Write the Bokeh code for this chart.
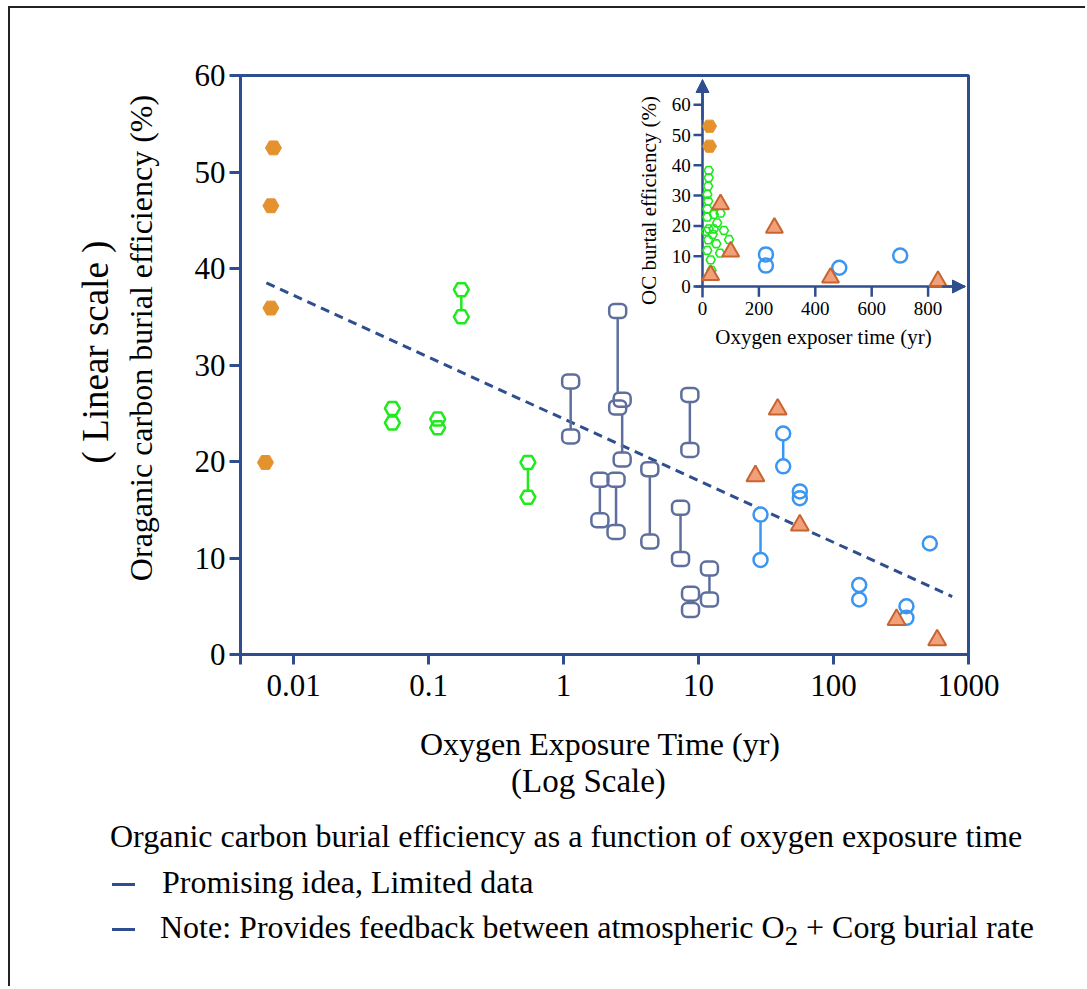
import math
from bokeh.plotting import figure
from bokeh.layouts import column, row
from bokeh.models import (Range1d, LinearScale, FixedTicker, Label, Arrow,
                          NormalHead, Div)
from bokeh.core.properties import value
from bokeh.embed import file_html
from bokeh.resources import INLINE

# ---------------- data (main chart) ----------------
orange_x = [0.0071, 0.0068, 0.0068, 0.0062]
orange_y = [52.5, 46.5, 35.9, 19.9]

green_pair_x = [0.175, 0.545]
green_pair_top = [37.8, 19.9]
green_pair_bot = [35.0, 16.3]
green_single_x = [0.054, 0.054, 0.117, 0.117]
green_single_y = [25.5, 24.0, 24.4, 23.5]

square_pair_x = [1.13, 2.52, 2.72, 8.63, 1.86, 2.45, 4.36, 7.36, 12.05]
square_pair_top = [28.3, 35.6, 26.4, 26.9, 18.1, 18.1, 19.2, 15.2, 8.9]
square_pair_bot = [22.6, 25.6, 20.2, 21.2, 13.9, 12.7, 11.7, 9.9, 5.7]
square_single_x = [8.73, 8.73]
square_single_y = [6.3, 4.6]

circle_pair_x = [42.4, 28.8]
circle_pair_top = [22.9, 14.5]
circle_pair_bot = [19.5, 9.8]
circle_single_x = [56.3, 56.3, 517, 155, 155, 347, 347]
circle_single_y = [16.9, 16.2, 11.5, 7.2, 5.7, 5.0, 3.8]

tri_x = [38.6, 26.4, 56.3, 293, 586]
tri_y = [25.4, 18.5, 13.4, 3.6, 1.5]

trend_x = [0.0063, 757]
trend_y = [38.5, 6.0]

x_ticks = [0.01, 0.1, 1, 10, 100, 1000]
x_tick_labels = ["0.01", "0.1", "1", "10", "100", "1000"]
y_ticks = [0, 10, 20, 30, 40, 50, 60]

# ---------------- data (inset) ----------------
in_orange_x = [25, 25]
in_orange_y = [52.9, 46.3]
in_green_x = [22, 22, 20, 17, 20, 17, 17, 40, 64, 22, 40, 52, 76, 94, 20, 49,
              17, 62, 29, 32, 13, 36]
in_green_y = [38.3, 35.9, 33.1, 30.4, 28.2, 25.6, 22.9, 23.8, 24.2, 19.0, 19.0,
              21.0, 18.5, 15.5, 15.4, 14.1, 11.9, 11.0, 8.8, 5.3, 18.2, 17.2]
in_tri_x = [64, 100, 29, 255, 454, 835]
in_tri_y = [27.1, 11.5, 3.8, 19.4, 2.9, 1.8]
in_circle_x = [225, 225, 485, 701]
in_circle_y = [10.6, 6.9, 6.2, 10.2]
in_x_ticks = [0, 200, 400, 600, 800]
in_y_ticks = [0, 10, 20, 30, 40, 50, 60]

# ---------------- texts ----------------
y_title = "Oraganic carbon burial efficiency (%)"
y_subtitle = "( Linear scale )"
x_title = "Oxygen Exposure Time (yr)"
x_subtitle = "(Log Scale)"
caption_title = "Organic carbon burial efficiency as a function of oxygen exposure time"
caption_items = ["Promising idea, Limited data",
                 "Note: Provides feedback between atmospheric O<sub>2</sub> + Corg burial rate"]

# ---------------- styles ----------------
AXIS = "#2F4E8F"
ORANGE = "#E3922E"
GREEN = "#1EEA1E"
SLATE = "#5E6F9E"
BLUE = "#3A96F0"
TRI_FILL = "#F2A07A"
TRI_LINE = "#C8642F"
FONT = "Liberation Serif"

OX, OY = 10, 8                    # page offset of the whole layout content
TOTAL_W = 1075
LW = 160                          # left text column width
FX = OX + LW                      # page x of figure canvas
W = TOTAL_W - LW
H = 712
FL, FR, FT, FB = 240, 968, 75, 654          # frame edges in page px
x_lo = 10 ** (-2 - (293 - FL) / 135.0)

# inset linear mapping (page px)
IX0, IXS = 702, 0.282
IY0, IYS = 286, 3.03

p = figure(width=W, height=H, x_axis_type="log",
           x_range=Range1d(x_lo, 1000), y_range=Range1d(0, 60),
           output_backend="svg", toolbar_location=None,
           min_border_left=FL - FX, min_border_right=W - (FR - FX),
           min_border_top=FT - OY, min_border_bottom=H - (FB - OY))
p.extra_x_ranges = {"px": Range1d(FL, FR),
                    "ix": Range1d((FL - IX0) / IXS, (FR - IX0) / IXS)}
p.extra_y_ranges = {"px": Range1d(FB, FT),
                    "iy": Range1d((IY0 - FB) / IYS, (IY0 - FT) / IYS)}
p.extra_x_scales = {"px": LinearScale(), "ix": LinearScale()}
p.extra_y_scales = {"px": LinearScale(), "iy": LinearScale()}

p.grid.visible = False
p.background_fill_color = "white"
p.border_fill_color = "white"
p.outline_line_color = AXIS
p.outline_line_width = 3

for ax in (p.xaxis[0], p.yaxis[0]):
    ax.axis_line_color = AXIS
    ax.axis_line_width = 3
    ax.major_tick_line_color = AXIS
    ax.major_tick_line_width = 3
    ax.major_tick_in = 0
    ax.minor_tick_line_color = None
    ax.major_label_text_font = FONT
    ax.major_label_text_font_size = "31px"
    ax.major_label_text_color = "black"

p.xaxis.ticker = FixedTicker(ticks=[x_lo] + x_ticks)
ov = {float(x_lo): ""}
for t, s in zip(x_ticks, x_tick_labels):
    ov[float(t)] = s
p.xaxis.major_label_overrides = ov
p.xaxis.major_tick_out = 10
p.xaxis.major_label_standoff = 10
p.yaxis.ticker = FixedTicker(ticks=y_ticks)
p.yaxis.major_tick_out = 11
p.yaxis.major_label_standoff = 4

# ---------------- main glyphs ----------------
p.line(trend_x, trend_y, line_color=AXIS, line_width=3, line_dash="9 6")

p.scatter(orange_x, orange_y, marker="hex", size=16, fill_color=ORANGE,
          line_color=ORANGE, line_width=1)

p.segment(x0=green_pair_x, y0=green_pair_top, x1=green_pair_x, y1=green_pair_bot,
          line_color=GREEN, line_width=2.5)
gx = green_pair_x + green_pair_x + green_single_x
gy = green_pair_top + green_pair_bot + green_single_y
p.scatter(gx, gy, marker="hex", size=15, fill_color="white", line_color=None)
p.scatter(gx, gy, marker="hex", size=15, fill_color=None, line_color=GREEN,
          line_width=2.5)

p.segment(x0=square_pair_x, y0=square_pair_top, x1=square_pair_x, y1=square_pair_bot,
          line_color=SLATE, line_width=2.5)
sx = square_pair_x + square_pair_x + square_single_x
sy = square_pair_top + square_pair_bot + square_single_y
p.rect(sx, sy, width=17, height=14, width_units="screen", height_units="screen",
       border_radius=5, fill_color="white", line_color=None)
p.rect(sx, sy, width=17, height=14, width_units="screen", height_units="screen",
       border_radius=5, fill_color=None, line_color=SLATE, line_width=2.5)

p.segment(x0=circle_pair_x, y0=circle_pair_top, x1=circle_pair_x, y1=circle_pair_bot,
          line_color=BLUE, line_width=2.5)
cx = circle_pair_x + circle_pair_x + circle_single_x
cy = circle_pair_top + circle_pair_bot + circle_single_y
p.scatter(cx, cy, marker="circle", size=14, fill_color="white", line_color=None)
p.scatter(cx, cy, marker="circle", size=14, fill_color=None, line_color=BLUE,
          line_width=2.5)

p.scatter(tri_x, tri_y, marker="triangle", size=18, fill_color=TRI_FILL,
          line_color=TRI_LINE, line_width=2)

# ---------------- inset ----------------
IR = dict(x_range_name="ix", y_range_name="iy")
p.segment(x0=[-25], y0=[0], x1=[930], y1=[0], line_color=AXIS, line_width=2.5, **IR)
p.segment(x0=[0], y0=[-3.6], x1=[0], y1=[66], line_color=AXIS, line_width=2.5, **IR)
p.add_layout(Arrow(end=NormalHead(size=13, fill_color=AXIS, line_color=AXIS),
                   x_start=850, y_start=0, x_end=(965 - IX0) / IXS, y_end=0,
                   line_color=AXIS, line_width=2.5, **IR))
p.add_layout(Arrow(end=NormalHead(size=13, fill_color=AXIS, line_color=AXIS),
                   x_start=0, y_start=55, x_end=0, y_end=(IY0 - 79) / IYS,
                   line_color=AXIS, line_width=2.5, **IR))
p.segment(x0=[-32] * len(in_y_ticks), y0=in_y_ticks, x1=[0] * len(in_y_ticks),
          y1=in_y_ticks, line_color=AXIS, line_width=2.5, **IR)
p.segment(x0=in_x_ticks[1:], y0=[0] * 4, x1=in_x_ticks[1:], y1=[-3.4] * 4,
          line_color=AXIS, line_width=2.5, **IR)
p.text(x=[-42] * len(in_y_ticks), y=in_y_ticks, text=[str(v) for v in in_y_ticks],
       text_font=value(FONT), text_font_size="19px", text_align="right",
       text_baseline="middle", text_color="black", **IR)
p.text(x=in_x_ticks, y=[-5.2] * len(in_x_ticks), text=[str(v) for v in in_x_ticks],
       text_font=value(FONT), text_font_size="19px", text_align="center",
       text_baseline="top", text_color="black", **IR)

p.scatter(in_green_x, in_green_y, marker="hex", size=9, fill_color=None,
          line_color=GREEN, line_width=1.6, **IR)
p.scatter(in_orange_x, in_orange_y, marker="hex", size=14, fill_color=ORANGE,
          line_color=ORANGE, **IR)
p.scatter(in_circle_x, in_circle_y, marker="circle", size=14, fill_color=None,
          line_color=BLUE, line_width=2.5, **IR)
p.scatter(in_tri_x, in_tri_y, marker="triangle", size=17, fill_color=TRI_FILL,
          line_color=TRI_LINE, line_width=2, **IR)

PX = dict(x_range_name="px", y_range_name="px")
p.add_layout(Label(text="OC burtal efficiency (%)", x=648, y=200, angle=math.pi / 2,
                   text_font=FONT, text_font_size="21px", text_align="center",
                   text_baseline="middle", text_color="black", **PX))
p.add_layout(Label(text="Oxygen exposer time (yr)", x=823, y=336,
                   text_font=FONT, text_font_size="21px", text_align="center",
                   text_baseline="alphabetic", text_color="black", **PX))


# ---------------- HTML text blocks (page-pixel placement) ----------------
def vtext(text, cx_page, cy_page, size):
    return (f'<div style="position:absolute;left:{cx_page - OX}px;top:{cy_page - OY}px;'
            f'transform:translate(-50%,-50%) rotate(-90deg);white-space:nowrap;'
            f'line-height:1;font-size:{size}px;">{text}</div>')


left_html = (f'<div style="position:relative;width:{LW}px;height:{H}px;'
             f'font-family:\'Liberation Serif\';color:black;">'
             + vtext(y_title, 141, 338, 32)
             + vtext(y_subtitle, 95, 352, 37)
             + '</div>')
left_div = Div(text=left_html, width=LW, height=H, margin=0)

DIV_TOP = OY + H
DH = 989 - DIV_TOP - 3


def tline(text, left, baseline, size=32):
    top = baseline - DIV_TOP - 0.8375 * size
    return (f'<div style="position:absolute;left:{left - OX}px;top:{top:.1f}px;'
            f'white-space:nowrap;line-height:{size}px;font-size:{size}px;">{text}</div>')


def dash(mid):
    return (f'<div style="position:absolute;left:{112 - OX}px;top:{mid - DIV_TOP - 1.5}px;'
            f'width:23px;height:3px;background:{AXIS};"></div>')


cap_html = (f'<div style="position:relative;width:{TOTAL_W}px;height:{DH}px;'
            f'font-family:\'Liberation Serif\';color:black;">'
            + tline(x_title, 420, 755, 32)
            + tline(x_subtitle, 511, 793, 33)
            + tline(caption_title, 110, 847)
            + dash(884) + tline(caption_items[0], 162, 893)
            + dash(929) + tline(caption_items[1], 160, 938)
            + '</div>')
cap = Div(text=cap_html, width=TOTAL_W, height=DH, margin=0)

layout = column(row(left_div, p, spacing=0), cap, spacing=0,
                styles={"margin-left": "8px", "margin-top": "6px",
                        "border-left": "2px solid #222222",
                        "border-top": "2px solid #222222"})

open("out.html", "w").write(file_html(layout, INLINE))
